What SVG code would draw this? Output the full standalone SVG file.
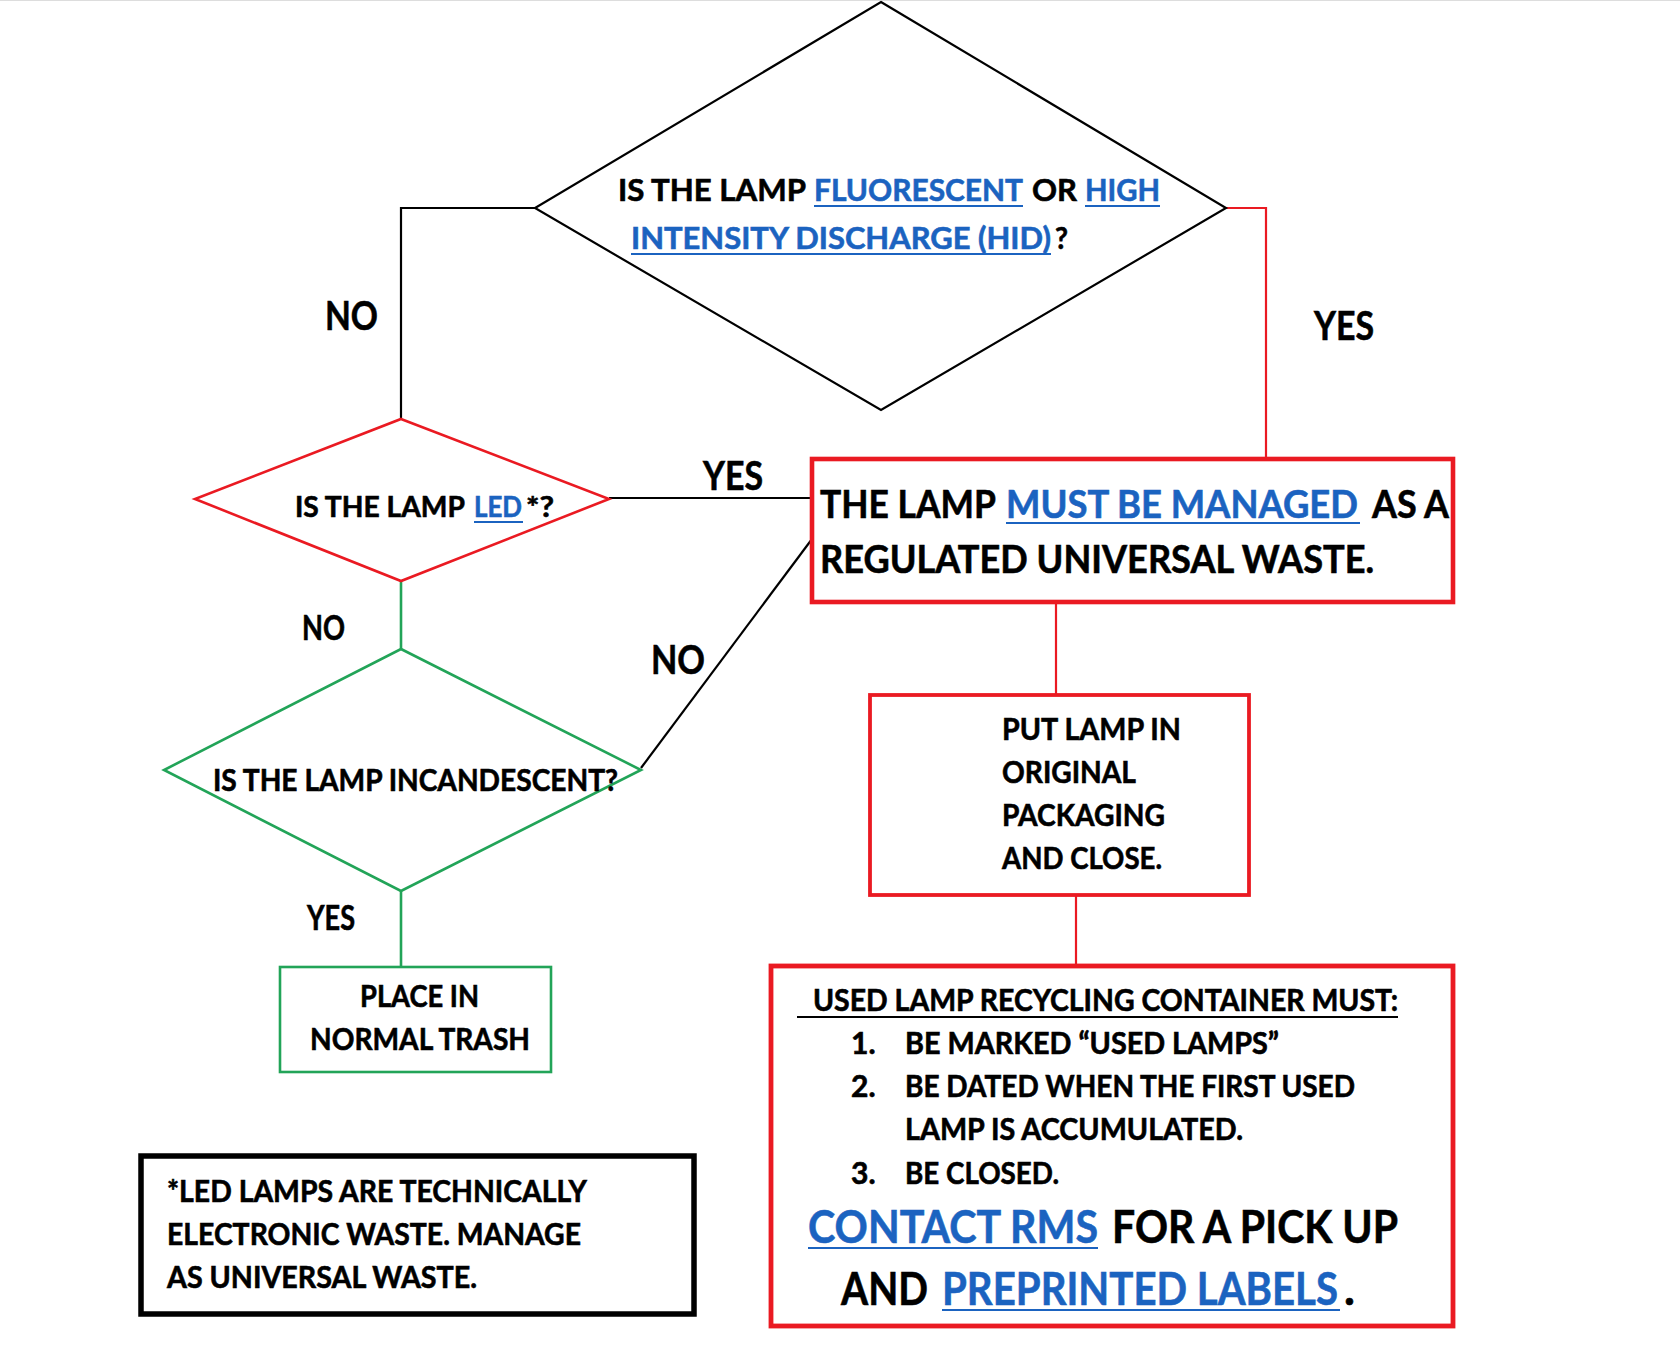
<svg xmlns="http://www.w3.org/2000/svg" width="1680" height="1364" viewBox="0 0 1680 1364">
<style>
text{font-family:Lato,"Open Sans","Liberation Sans",sans-serif;font-weight:700;fill:#000;stroke:#000;stroke-width:0.6;}
text.b{fill:#1b63c0;stroke:#1b63c0;}
.ul{stroke:#1b63c0;stroke-width:2;}
.red{fill:#fff;stroke:#ea1a22;}
.grn{fill:#fff;stroke:#22a458;stroke-width:2.6;}
.blk{fill:#fff;stroke:#000;}
.cb{fill:none;stroke:#000;stroke-width:2.2;}
.cr{fill:none;stroke:#ea1a22;stroke-width:2.2;}
.cg{fill:none;stroke:#22a458;stroke-width:2.6;}
</style>
<rect width="1680" height="1364" fill="#fff"/>
<line x1="0" y1="0.5" x2="1680" y2="0.5" stroke="#ddd" stroke-width="1"/>
<g id="connectors">
<polyline class="cb" points="535,208 401,208 401,419"/>
<polyline class="cr" points="1226,208 1266,208 1266,459"/>
<line class="cb" x1="609" y1="498" x2="812" y2="498"/>
<line class="cb" x1="641" y1="768" x2="812" y2="539"/>
<line class="cg" x1="401" y1="581" x2="401" y2="649"/>
<line class="cg" x1="401" y1="891" x2="401" y2="967"/>
<line class="cr" x1="1056" y1="602" x2="1056" y2="695"/>
<line class="cr" x1="1076" y1="895" x2="1076" y2="966"/>
<text x="325" y="330" font-size="41" textLength="53" lengthAdjust="spacingAndGlyphs">NO</text>
<text x="1314" y="340" font-size="40" textLength="60" lengthAdjust="spacingAndGlyphs">YES</text>
<text x="703" y="490" font-size="40" textLength="60" lengthAdjust="spacingAndGlyphs">YES</text>
<text x="302" y="640" font-size="34" textLength="43" lengthAdjust="spacingAndGlyphs">NO</text>
<text x="651" y="674" font-size="40" textLength="54" lengthAdjust="spacingAndGlyphs">NO</text>
<text x="307" y="930" font-size="34" textLength="48" lengthAdjust="spacingAndGlyphs">YES</text>
</g>
<g id="q-fluorescent">
<polygon class="blk" stroke-width="2.2" points="881,2 1226,208 881,410 535,208"/>
<text x="618" y="201" font-size="31" textLength="188" lengthAdjust="spacingAndGlyphs">IS THE LAMP</text>
<text class="b" x="814" y="201" font-size="31" textLength="209" lengthAdjust="spacingAndGlyphs">FLUORESCENT</text>
<text x="1032" y="201" font-size="31" textLength="45" lengthAdjust="spacingAndGlyphs">OR</text>
<text class="b" x="1085" y="201" font-size="31" textLength="75" lengthAdjust="spacingAndGlyphs">HIGH</text>
<line class="ul" x1="814" y1="206" x2="1023" y2="206"/>
<line class="ul" x1="1085" y1="206" x2="1160" y2="206"/>
<text class="b" x="631" y="249" font-size="31" textLength="420" lengthAdjust="spacingAndGlyphs">INTENSITY DISCHARGE (HID)</text>
<text x="1055" y="249" font-size="31" textLength="13" lengthAdjust="spacingAndGlyphs">?</text>
<line class="ul" x1="631" y1="254" x2="1051" y2="254"/>
</g>
<g id="q-led">
<polygon class="red" stroke-width="2.6" points="401,419 609,499 401,581 195,499"/>
<text x="295" y="517" font-size="29" textLength="170" lengthAdjust="spacingAndGlyphs">IS THE LAMP</text>
<text class="b" x="474" y="517" font-size="29" textLength="48" lengthAdjust="spacingAndGlyphs">LED</text>
<text x="526" y="517" font-size="29" textLength="28" lengthAdjust="spacingAndGlyphs">*?</text>
<line class="ul" x1="474" y1="522" x2="523" y2="522"/>
</g>
<g id="q-incandescent">
<polygon class="grn" points="401,649 641,770 401,891 164,770"/>
<text x="213" y="791" font-size="30" textLength="405" lengthAdjust="spacingAndGlyphs">IS THE LAMP INCANDESCENT?</text>
</g>
<g id="regulated">
<rect class="red" stroke-width="4.6" x="812" y="459" width="641" height="143"/>
<text x="820" y="518" font-size="39" textLength="176" lengthAdjust="spacingAndGlyphs">THE LAMP</text>
<text class="b" x="1006" y="518" font-size="39" textLength="352" lengthAdjust="spacingAndGlyphs">MUST BE MANAGED</text>
<text x="1372" y="518" font-size="39" textLength="77" lengthAdjust="spacingAndGlyphs">AS A</text>
<line class="ul" x1="1006" y1="523" x2="1360" y2="523" stroke-width="2.4"/>
<text x="820" y="573" font-size="39" textLength="554" lengthAdjust="spacingAndGlyphs">REGULATED UNIVERSAL WASTE.</text>
</g>
<g id="packaging">
<rect class="red" stroke-width="3.8" x="870" y="695" width="379" height="200"/>
<text x="1002" y="740" font-size="31" textLength="179" lengthAdjust="spacingAndGlyphs">PUT LAMP IN</text>
<text x="1002" y="783" font-size="31" textLength="134" lengthAdjust="spacingAndGlyphs">ORIGINAL</text>
<text x="1002" y="826" font-size="31" textLength="163" lengthAdjust="spacingAndGlyphs">PACKAGING</text>
<text x="1002" y="869" font-size="31" textLength="160" lengthAdjust="spacingAndGlyphs">AND CLOSE.</text>
</g>
<g id="trash">
<rect class="grn" x="280" y="967" width="271" height="105"/>
<text x="360" y="1007" font-size="31" textLength="119" lengthAdjust="spacingAndGlyphs">PLACE IN</text>
<text x="310" y="1050" font-size="31" textLength="220" lengthAdjust="spacingAndGlyphs">NORMAL TRASH</text>
</g>
<g id="container">
<rect class="red" stroke-width="4.8" x="771" y="966" width="682" height="360"/>
<text x="813" y="1011" font-size="30" textLength="585" lengthAdjust="spacingAndGlyphs">USED LAMP RECYCLING CONTAINER MUST:</text>
<line x1="797" y1="1017" x2="1398" y2="1017" stroke="#000" stroke-width="2"/>
<text x="851" y="1054" font-size="30">1.</text>
<text x="905" y="1054" font-size="30" textLength="374" lengthAdjust="spacingAndGlyphs">BE MARKED “USED LAMPS”</text>
<text x="851" y="1097" font-size="30">2.</text>
<text x="905" y="1097" font-size="30" textLength="450" lengthAdjust="spacingAndGlyphs">BE DATED WHEN THE FIRST USED</text>
<text x="905" y="1140" font-size="30" textLength="338" lengthAdjust="spacingAndGlyphs">LAMP IS ACCUMULATED.</text>
<text x="851" y="1184" font-size="30">3.</text>
<text x="905" y="1184" font-size="30" textLength="154" lengthAdjust="spacingAndGlyphs">BE CLOSED.</text>
<text class="b" x="808" y="1243" font-size="46" textLength="290" lengthAdjust="spacingAndGlyphs">CONTACT RMS</text>
<text x="1112" y="1243" font-size="46" textLength="286" lengthAdjust="spacingAndGlyphs">FOR A PICK UP</text>
<line class="ul" x1="808" y1="1248" x2="1098" y2="1248" stroke-width="2.6"/>
<text x="841" y="1305" font-size="46" textLength="87" lengthAdjust="spacingAndGlyphs">AND</text>
<text class="b" x="942" y="1305" font-size="46" textLength="396" lengthAdjust="spacingAndGlyphs">PREPRINTED LABELS</text>
<text x="1344" y="1305" font-size="46">.</text>
<line class="ul" x1="942" y1="1310" x2="1340" y2="1310" stroke-width="2.6"/>
</g>
<g id="footnote">
<rect class="blk" stroke-width="5.5" x="141" y="1156" width="553" height="158"/>
<text x="167" y="1202" font-size="30" textLength="420" lengthAdjust="spacingAndGlyphs">*LED LAMPS ARE TECHNICALLY</text>
<text x="167" y="1245" font-size="30" textLength="414" lengthAdjust="spacingAndGlyphs">ELECTRONIC WASTE. MANAGE</text>
<text x="167" y="1288" font-size="30" textLength="310" lengthAdjust="spacingAndGlyphs">AS UNIVERSAL WASTE.</text>
</g>
</svg>
